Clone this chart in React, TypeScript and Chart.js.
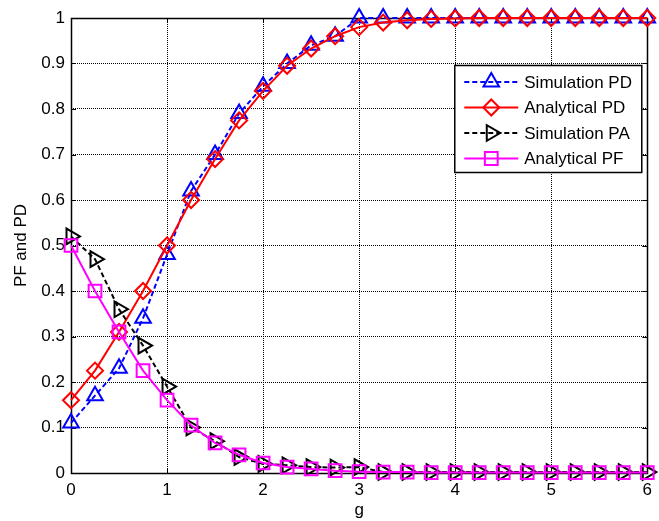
import React, { useEffect, useRef } from 'react';
import { Chart, registerables } from 'chart.js';

Chart.register(...registerables);

const gValues = [0, 0.25, 0.5, 0.75, 1, 1.25, 1.5, 1.75, 2, 2.25, 2.5, 2.75, 3, 3.25, 3.5, 3.75, 4, 4.25, 4.5, 4.75, 5, 5.25, 5.5, 5.75, 6];

const simulationPD = [0.11, 0.17, 0.23, 0.34, 0.48, 0.62, 0.70, 0.79, 0.85, 0.90, 0.94, 0.96, 1, 1, 1, 1, 1, 1, 1, 1, 1, 1, 1, 1, 1];
const analyticalPD = [0.16, 0.225, 0.31, 0.40, 0.50, 0.60, 0.69, 0.775, 0.84, 0.895, 0.933, 0.96, 0.98, 0.99, 0.995, 0.998, 0.999, 1, 1, 1, 1, 1, 1, 1, 1];
const simulationPA = [0.52, 0.47, 0.36, 0.28, 0.19, 0.10, 0.07, 0.035, 0.02, 0.017, 0.013, 0.012, 0.013, 0.002, 0.002, 0.002, 0.002, 0.002, 0.002, 0.002, 0.002, 0.002, 0.002, 0.002, 0.002];
const analyticalPF = [0.50, 0.40, 0.31, 0.225, 0.16, 0.105, 0.066, 0.04, 0.022, 0.013, 0.009, 0.005, 0.003, 0.002, 0.002, 0.001, 0.001, 0.001, 0.001, 0.001, 0.001, 0.001, 0.001, 0.001, 0.001];

const xTickLabels = ['0', '1', '2', '3', '4', '5', '6'];
const yTickLabels = ['0', '0.1', '0.2', '0.3', '0.4', '0.5', '0.6', '0.7', '0.8', '0.9', '1'];

const seriesNames = ['Simulation PD', 'Analytical PD', 'Simulation PA', 'Analytical PF'];
const xTitle = 'g';
const yTitle = 'PF and PD';

const FONT = '"Liberation Sans", Arial, Helvetica, sans-serif';
const FS = 17;

type MarkerKind = 'triangle' | 'diamond' | 'right' | 'square';

function drawMarker(ctx: CanvasRenderingContext2D, kind: MarkerKind, x: number, y: number) {
  ctx.beginPath();
  if (kind === 'triangle') {
    const r = 9;
    for (let k = 0; k < 3; k++) {
      const a = (k * 2 * Math.PI) / 3;
      const px = x + Math.sin(a) * r;
      const py = y - Math.cos(a) * r;
      if (k === 0) ctx.moveTo(px, py); else ctx.lineTo(px, py);
    }
    ctx.closePath();
  } else if (kind === 'right') {
    const r = 9;
    for (let k = 0; k < 3; k++) {
      const a = Math.PI / 2 + (k * 2 * Math.PI) / 3;
      const px = x + Math.sin(a) * r;
      const py = y - Math.cos(a) * r;
      if (k === 0) ctx.moveTo(px, py); else ctx.lineTo(px, py);
    }
    ctx.closePath();
  } else if (kind === 'diamond') {
    const r = 8;
    ctx.moveTo(x, y - r);
    ctx.lineTo(x + r, y);
    ctx.lineTo(x, y + r);
    ctx.lineTo(x - r, y);
    ctx.closePath();
  } else {
    const h = 6.4;
    ctx.rect(x - h, y - h, 2 * h, 2 * h);
  }
  ctx.stroke();
}

const legendStyles: { color: string; dash: number[]; marker: MarkerKind }[] = [
  { color: '#0000ff', dash: [5, 3], marker: 'triangle' },
  { color: '#ff0000', dash: [], marker: 'diamond' },
  { color: '#000000', dash: [5, 3], marker: 'right' },
  { color: '#ff00ff', dash: [], marker: 'square' },
];

const boxPlugin = {
  id: 'matlabBox',
  beforeDatasetsDraw(chart: any) {
    const { ctx, chartArea } = chart;
    const { left, right, top, bottom } = chartArea;
    const xs = chart.scales.x;
    const ys = chart.scales.y;
    ctx.save();
    ctx.strokeStyle = '#000';
    ctx.lineWidth = 1;
    ctx.setLineDash([]);
    const tl = 5;
    ctx.beginPath();
    for (let i = 0; i < xTickLabels.length; i++) {
      const px = Math.round(xs.getPixelForValue(Number(xTickLabels[i]))) + 0.5;
      ctx.moveTo(px, bottom);
      ctx.lineTo(px, bottom - tl);
      ctx.moveTo(px, top);
      ctx.lineTo(px, top + tl);
    }
    for (let i = 0; i < yTickLabels.length; i++) {
      const py = Math.round(ys.getPixelForValue(Number(yTickLabels[i]))) + 0.5;
      ctx.moveTo(left, py);
      ctx.lineTo(left + tl, py);
      ctx.moveTo(right, py);
      ctx.lineTo(right - tl, py);
    }
    ctx.stroke();
    ctx.lineWidth = 1.5;
    ctx.strokeRect(Math.round(left) + 0.5, Math.round(top) + 0.5, Math.round(right - left), Math.round(bottom - top));
    ctx.restore();
  },
};

const legendPlugin = {
  id: 'matlabLegend',
  afterDatasetsDraw(chart: any) {
    const { ctx, chartArea } = chart;
    const bx = chartArea.right - 193;
    const by = chartArea.top + 47;
    const bw = 187;
    const bh = 107;
    ctx.save();
    ctx.fillStyle = '#fff';
    ctx.fillRect(bx, by, bw, bh);
    ctx.strokeStyle = '#000';
    ctx.lineWidth = 1.5;
    ctx.setLineDash([]);
    ctx.strokeRect(bx + 0.5, by + 0.5, bw, bh);
    ctx.font = `${FS}px ${FONT}`;
    ctx.textBaseline = 'middle';
    ctx.textAlign = 'left';
    for (let i = 0; i < seriesNames.length; i++) {
      const st = legendStyles[i];
      const y = by + 17 + i * 25.5;
      ctx.strokeStyle = st.color;
      ctx.lineWidth = 2;
      ctx.setLineDash(st.dash);
      ctx.beginPath();
      ctx.moveTo(bx + 10, y);
      ctx.lineTo(bx + 64, y);
      ctx.stroke();
      ctx.setLineDash([]);
      drawMarker(ctx, st.marker, bx + 37, y);
      ctx.fillStyle = '#000';
      ctx.fillText(seriesNames[i], bx + 70, y + 1);
    }
    ctx.restore();
  },
};

function toPoints(vals: number[]) {
  return vals.map((v, i) => ({ x: gValues[i], y: v }));
}

export default function App() {
  const canvasRef = useRef<HTMLCanvasElement | null>(null);

  useEffect(() => {
    const canvas = canvasRef.current;
    if (!canvas) return;
    const common = {
      showLine: true,
      tension: 0,
      borderWidth: 2,
      pointBorderWidth: 2,
      pointBackgroundColor: 'rgba(0,0,0,0)',
      pointHoverRadius: 9,
      clip: false as any,
    };
    const chart = new Chart(canvas, {
      type: 'line',
      data: {
        datasets: [
          {
            ...common,
            label: seriesNames[0],
            data: toPoints(simulationPD),
            borderColor: '#0000ff',
            pointBorderColor: '#0000ff',
            borderDash: [5, 3],
            pointStyle: 'triangle',
            pointRadius: 9,
            order: 4,
          },
          {
            ...common,
            label: seriesNames[1],
            data: toPoints(analyticalPD),
            borderColor: '#ff0000',
            pointBorderColor: '#ff0000',
            pointStyle: 'rectRot',
            pointRadius: 8,
            order: 3,
          },
          {
            ...common,
            label: seriesNames[2],
            data: toPoints(simulationPA),
            borderColor: '#000000',
            pointBorderColor: '#000000',
            borderDash: [5, 3],
            pointStyle: 'triangle',
            pointRotation: 90,
            pointRadius: 9,
            order: 2,
          },
          {
            ...common,
            label: seriesNames[3],
            data: toPoints(analyticalPF),
            borderColor: '#ff00ff',
            pointBorderColor: '#ff00ff',
            pointStyle: 'rect',
            pointRadius: 9,
            order: 1,
          },
        ] as any,
      },
      options: {
        responsive: false,
        animation: false,
        devicePixelRatio: 1,
        events: [],
        layout: { padding: { left: 0, top: 18, right: 9, bottom: 0 } },
        plugins: {
          legend: { display: false },
          tooltip: { enabled: false },
        },
        scales: {
          x: {
            type: 'linear',
            min: 0,
            max: 6,
            afterFit: (s: any) => { s.height = 48; },
            afterBuildTicks: (s: any) => {
              s.ticks = xTickLabels.map((t) => ({ value: Number(t) }));
            },
            ticks: {
              callback: (_v: any, i: number) => xTickLabels[i],
              padding: 7,
              color: '#000',
              maxRotation: 0,
              font: { family: FONT, size: FS },
            },
            grid: { color: '#000', lineWidth: 1, drawTicks: false },
            border: { display: false, dash: [1, 1] },
            title: {
              display: true,
              text: xTitle,
              color: '#000',
              padding: { top: 0, bottom: 0 },
              font: { family: FONT, size: FS },
            },
          },
          y: {
            type: 'linear',
            min: 0,
            max: 1,
            afterFit: (s: any) => { s.width = 71; },
            afterBuildTicks: (s: any) => {
              s.ticks = yTickLabels.map((t) => ({ value: Number(t) }));
            },
            ticks: {
              callback: (_v: any, i: number) => yTickLabels[i],
              padding: 6,
              color: '#000',
              font: { family: FONT, size: FS },
            },
            grid: { color: '#000', lineWidth: 1, drawTicks: false },
            border: { display: false, dash: [1, 1] },
            title: {
              display: true,
              text: yTitle,
              color: '#000',
              padding: { top: 11, bottom: 0 },
              font: { family: FONT, size: FS },
            },
          },
        },
      },
      plugins: [boxPlugin, legendPlugin],
    });
    return () => chart.destroy();
  }, []);

  return (
    <div style={{ position: 'fixed', left: 0, top: 0, width: 659, height: 521, background: '#fff' }}>
      <canvas ref={canvasRef} width={659} height={521} style={{ display: 'block', width: 659, height: 521 }} />
    </div>
  );
}
